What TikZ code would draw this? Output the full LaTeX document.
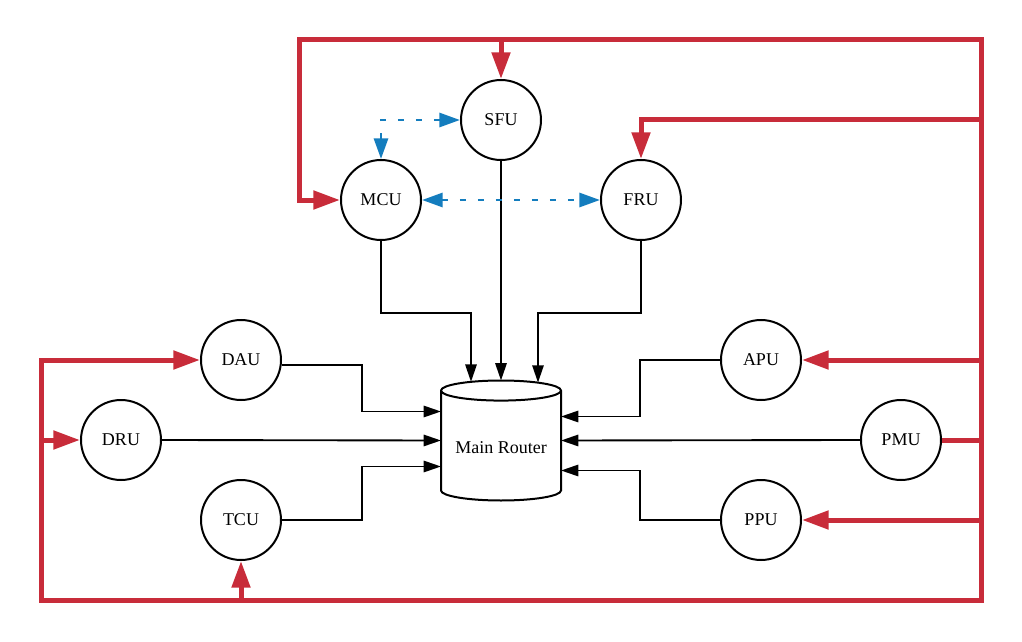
\documentclass[tikz,border=0pt]{standalone}
\usepackage{fontspec}
\setmainfont{Liberation Serif}
\usetikzlibrary{arrows.meta,shapes.geometric,calc}
\definecolor{busred}{RGB}{200,44,58}
\definecolor{syncblue}{RGB}{20,125,190}
\begin{document}
\begin{tikzpicture}[x=0.75pt,y=-0.75pt,
    unit/.style={draw,circle,line width=1.5pt,minimum size=60pt,inner sep=0pt,font=\fontsize{13.5}{16}\selectfont},
    router/.style={draw,cylinder,shape border rotate=90,aspect=0.2,minimum width=90pt,minimum height=90pt,line width=1.5pt,font=\fontsize{13.5}{16}\selectfont},
    link/.style={line width=1.4pt,-{Triangle[length=13pt,width=8.5pt]}},
    bus/.style={busred,line width=3.75pt},
    feed/.style={bus,-{Triangle[length=20pt,width=13.5pt]}},
    sync/.style={syncblue,line width=2.2pt,dash pattern=on 4.5pt off 9pt,{Triangle[length=15.5pt,width=10.5pt]}-{Triangle[length=15.5pt,width=10.5pt]}}]
    \useasboundingbox (0,0) rectangle (1022,642);

    \foreach \name/\x/\y in {SFU/501/120,MCU/381/200,FRU/641/200,DAU/241/360,DRU/121/440,TCU/241/520,APU/761/360,PMU/901/440,PPU/761/520}
        \node[unit] (\name) at (\x,\y) {\name};
    \node[router,anchor=shape center] (router) at (501,440.5) {Main Router};

    % router inputs
    \coordinate (rinMCU) at ($(router.shape center)+(-30,-58.7)$);
    \coordinate (rinSFU) at ($(router.shape center)+(0,-60)$);
    \coordinate (rinFRU) at ($(router.shape center)+(37,-57.9)$);
    \coordinate (rinDAU) at ($(router.shape center)+(-60,-29)$);
    \coordinate (rinDRU) at ($(router.shape center)+(-60,0)$);
    \coordinate (rinTCU) at ($(router.shape center)+(-60,26)$);
    \coordinate (rinAPU) at ($(router.shape center)+(60,-24)$);
    \coordinate (rinPMU) at ($(router.shape center)+(60,0)$);
    \coordinate (rinPPU) at ($(router.shape center)+(60,30)$);

    \draw[link] (MCU.south) -- ++(0,72) -| (rinMCU);
    \draw[link] (SFU.south) -- (rinSFU);
    \draw[link] (FRU.south) -- ++(0,72) -| (rinFRU);
    \draw[link] (DAU.-7) -- ++(80,0) |- (rinDAU);
    \draw[link] (DRU.east) -- (rinDRU);
    \draw[link] (TCU.east) -- ++(80,0) |- (rinTCU);
    \draw[link] (APU.west) -- ++(-80,0) |- (rinAPU);
    \draw[link] (PMU.west) -- (rinPMU);
    \draw[link] (PPU.west) -- ++(-80,0) |- (rinPPU);

    % red bus
    \coordinate (hub) at (981,440);
    \coordinate (tr) at (981,40);\coordinate (tl) at (299,40);\coordinate (fr) at (981,120);
    \coordinate (br) at (981,600);\coordinate (bl) at (41,600);\coordinate (dl) at (41,440);
    \draw[bus] (PMU.east) -- (hub);
    \draw[feed] (hub) -- (tr) -| (SFU.north);
    \draw[feed] (hub) -- (tr) -- (tl) |- (MCU.west);
    \draw[feed] (hub) -- (fr) -| (FRU.north);
    \draw[feed] (hub) |- (APU.east);
    \draw[feed] (hub) |- (PPU.east);
    \draw[feed] (hub) -- (br) -| (TCU.south);
    \draw[feed] (hub) -- (br) -- (bl) |- (DAU.west);
    \draw[feed] (dl) -- (DRU.west);

    % sync links
    \draw[sync] (MCU.north) |- (SFU.west);
    \draw[sync] (MCU.east) -- (FRU.west);
\end{tikzpicture}
\end{document}
